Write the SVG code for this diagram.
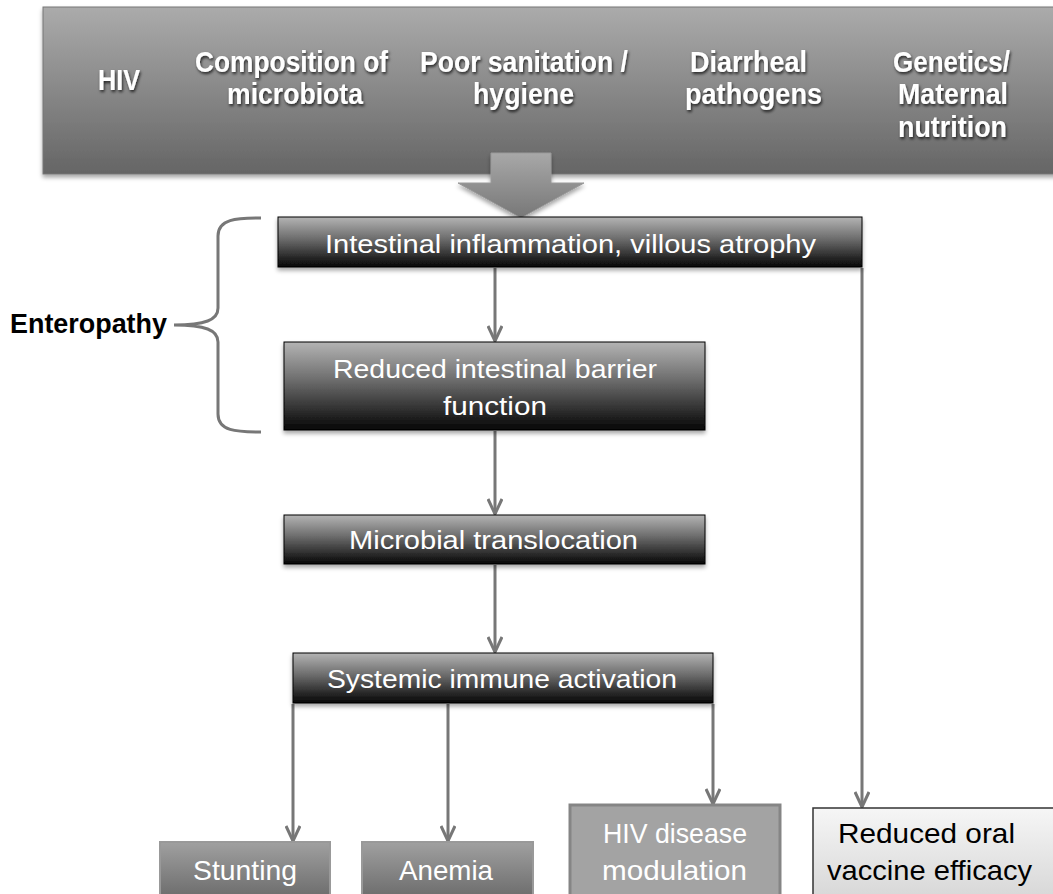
<svg xmlns="http://www.w3.org/2000/svg" width="1053" height="894" viewBox="0 0 1053 894">
<defs>
<linearGradient id="gBanner" x1="0" y1="0" x2="0" y2="1">
<stop offset="0" stop-color="#ababab"/><stop offset="1" stop-color="#656565"/>
</linearGradient>
<linearGradient id="gArrow" x1="0" y1="0" x2="0" y2="1">
<stop offset="0" stop-color="#a8a8a8"/><stop offset="1" stop-color="#777"/>
</linearGradient>
<linearGradient id="gDark" x1="0" y1="0" x2="0" y2="1">
<stop offset="0" stop-color="#b4b4b4"/><stop offset="0.45" stop-color="#6a6a6a"/><stop offset="1" stop-color="#050505"/>
</linearGradient>
<linearGradient id="gMid" x1="0" y1="0" x2="0" y2="1">
<stop offset="0" stop-color="#a0a0a0"/><stop offset="1" stop-color="#686868"/>
</linearGradient>
<linearGradient id="gLight" x1="0" y1="0" x2="0" y2="1">
<stop offset="0" stop-color="#f6f6f6"/><stop offset="1" stop-color="#d6d6d6"/>
</linearGradient>
<filter id="shadow" x="-5%" y="-10%" width="110%" height="130%">
<feDropShadow dx="0" dy="3" stdDeviation="2" flood-color="#000" flood-opacity="0.35"/>
</filter>
<filter id="tglow" x="-10%" y="-30%" width="120%" height="160%">
<feDropShadow dx="1" dy="2" stdDeviation="1.5" flood-color="#000" flood-opacity="0.75"/>
</filter>
<marker id="arr" viewBox="0 0 20 16" refX="18" refY="8" markerWidth="20" markerHeight="16" markerUnits="userSpaceOnUse" orient="auto">
<path d="M3 1 L18 8 L3 15" fill="none" stroke="#777" stroke-width="3"/>
</marker>
<style>
.ban{font-family:"Liberation Sans",Arial,sans-serif;font-weight:bold;font-size:30px;fill:#fff}
.bt{font-family:"Liberation Sans",Arial,sans-serif;font-size:26px;fill:#fff}
.bb{font-family:"Liberation Sans",Arial,sans-serif;font-size:28px;fill:#fff}
.con{fill:none;stroke:#777;stroke-width:3}
</style>
</defs>
<rect width="1053" height="894" fill="#fff"/>

<g id="banner">
<rect x="43" y="7" width="1030" height="167" fill="url(#gBanner)" stroke="#777" stroke-width="1" filter="url(#shadow)"/>
<g filter="url(#tglow)">
<text class="ban" x="98" y="90" textLength="42" lengthAdjust="spacingAndGlyphs">HIV</text>
<text class="ban" x="195" y="72" textLength="193" lengthAdjust="spacingAndGlyphs">Composition of</text>
<text class="ban" x="227" y="104" textLength="136" lengthAdjust="spacingAndGlyphs">microbiota</text>
<text class="ban" x="420" y="72" textLength="208" lengthAdjust="spacingAndGlyphs">Poor sanitation /</text>
<text class="ban" x="473" y="104" textLength="101" lengthAdjust="spacingAndGlyphs">hygiene</text>
<text class="ban" x="690" y="72" textLength="117" lengthAdjust="spacingAndGlyphs">Diarrheal</text>
<text class="ban" x="685" y="104" textLength="137" lengthAdjust="spacingAndGlyphs">pathogens</text>
<text class="ban" x="893" y="72" textLength="117" lengthAdjust="spacingAndGlyphs">Genetics/</text>
<text class="ban" x="898" y="104" textLength="110" lengthAdjust="spacingAndGlyphs">Maternal</text>
<text class="ban" x="898" y="137" textLength="109" lengthAdjust="spacingAndGlyphs">nutrition</text>
</g>
</g>

<g id="blockArrow">
<path d="M491 153 L551 153 L551 183 L584 183 L521 218 L458 183 L491 183 Z" fill="url(#gArrow)" stroke="#999" stroke-width="1" filter="url(#shadow)"/>
</g>

<g id="enteropathy">
<path class="con" d="M261 218 C236 218 218 219 218 236 L218 308 C218 320 205 325 174 325 C205 325 218 330 218 342 L218 414 C218 431 236 432 261 432"/>
<text x="10" y="333" font-family="'Liberation Sans',Arial,sans-serif" font-weight="bold" font-size="27" fill="#000" textLength="157" lengthAdjust="spacingAndGlyphs">Enteropathy</text>
</g>

<g id="connectors">
<line class="con" x1="495" y1="268" x2="495" y2="341" marker-end="url(#arr)"/>
<line class="con" x1="495" y1="431" x2="495" y2="514" marker-end="url(#arr)"/>
<line class="con" x1="495" y1="565" x2="495" y2="652" marker-end="url(#arr)"/>
<line class="con" x1="293" y1="704" x2="293" y2="841" marker-end="url(#arr)"/>
<line class="con" x1="448" y1="704" x2="448" y2="841" marker-end="url(#arr)"/>
<line class="con" x1="713" y1="704" x2="713" y2="804" marker-end="url(#arr)"/>
<line class="con" x1="862" y1="268" x2="862" y2="807" marker-end="url(#arr)"/>
</g>

<g id="n1">
<rect x="278" y="217" width="584" height="50" fill="url(#gDark)" stroke="#000" stroke-width="1" filter="url(#shadow)"/>
<text class="bt" x="325" y="253" textLength="491" lengthAdjust="spacingAndGlyphs">Intestinal inflammation, villous atrophy</text>
</g>
<g id="n2">
<rect x="284" y="342" width="421" height="88" fill="url(#gDark)" stroke="#000" stroke-width="1" filter="url(#shadow)"/>
<text class="bt" x="333" y="378" textLength="324" lengthAdjust="spacingAndGlyphs">Reduced intestinal barrier</text>
<text class="bt" x="443" y="415" textLength="104" lengthAdjust="spacingAndGlyphs">function</text>
</g>
<g id="n3">
<rect x="284" y="515" width="421" height="49" fill="url(#gDark)" stroke="#000" stroke-width="1" filter="url(#shadow)"/>
<text class="bt" x="349" y="549" textLength="289" lengthAdjust="spacingAndGlyphs">Microbial translocation</text>
</g>
<g id="n4">
<rect x="293" y="653" width="420" height="50" fill="url(#gDark)" stroke="#000" stroke-width="1" filter="url(#shadow)"/>
<text class="bt" x="327" y="688" textLength="350" lengthAdjust="spacingAndGlyphs">Systemic immune activation</text>
</g>
<g id="n5">
<rect x="160" y="842" width="170" height="60" fill="url(#gMid)" stroke="#999" stroke-width="2"/>
<text class="bb" x="193" y="880" textLength="104" lengthAdjust="spacingAndGlyphs">Stunting</text>
</g>
<g id="n6">
<rect x="362" y="842" width="171" height="60" fill="url(#gMid)" stroke="#999" stroke-width="2"/>
<text class="bb" x="399" y="880" textLength="94" lengthAdjust="spacingAndGlyphs">Anemia</text>
</g>
<g id="n7">
<rect x="570" y="805" width="210" height="97" fill="#a3a3a3" stroke="#858585" stroke-width="3"/>
<text class="bb" x="603" y="843" textLength="144" lengthAdjust="spacingAndGlyphs">HIV disease</text>
<text class="bb" x="602" y="880" textLength="145" lengthAdjust="spacingAndGlyphs">modulation</text>
</g>
<g id="n8">
<rect x="813" y="808" width="250" height="94" fill="url(#gLight)" stroke="#333" stroke-width="1.5"/>
<text class="bb" x="838" y="843" style="fill:#000" textLength="177" lengthAdjust="spacingAndGlyphs">Reduced oral</text>
<text class="bb" x="827" y="880" style="fill:#000" textLength="205" lengthAdjust="spacingAndGlyphs">vaccine efficacy</text>
</g>
</svg>
